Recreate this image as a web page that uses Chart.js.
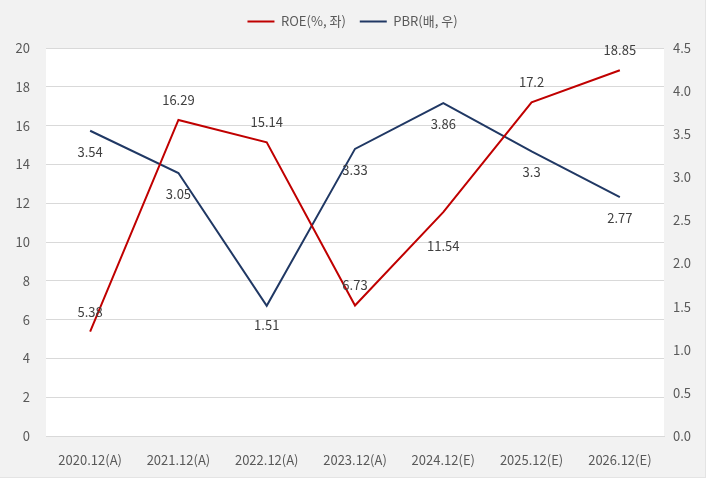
<!DOCTYPE html>
<html>
<head>
<meta charset="utf-8">
<script src="https://cdn.jsdelivr.net/npm/chart.js@4/dist/chart.umd.min.js"></script>
<style>
  html, body { margin: 0; padding: 0; background: #ffffff; }
  #wrap { position: absolute; left: 0; top: 0; width: 705px; height: 477px; background: #f2f2f2; border-right: 1px solid #e4e4e4; border-bottom: 1px solid #e4e4e4; }
</style>
</head>
<body>
<div id="wrap"><canvas id="chart" width="705" height="477"></canvas></div>
<script>
// Data
const categories = ['2020.12(A)', '2021.12(A)', '2022.12(A)', '2023.12(A)', '2024.12(E)', '2025.12(E)', '2026.12(E)'];
const roeValues = [5.38, 16.29, 15.14, 6.73, 11.54, 17.2, 18.85];
const pbrValues = [3.54, 3.05, 1.51, 3.33, 3.86, 3.3, 2.77];

const FONT = '"Noto Sans CJK KR", "Noto Sans", sans-serif';
const TEXT = '#595959';

// label vertical offsets (px from point)
const roeLabelOffset = [-20, -20, -20, -20, 34, -20, -20];
const pbrLabelOffset = [21, 21, 19, 21, 21, 21, 21];

// white plot area
const plotBackground = {
    id: 'plotBackground',
    beforeDraw(chart) {
        const {ctx, chartArea: a} = chart;
        ctx.save();
        ctx.fillStyle = '#ffffff';
        ctx.fillRect(a.left, a.top, a.right - a.left, a.bottom - a.top);
        ctx.restore();
    }
};

// extra space under the legend
const legendGap = {
    id: 'legendGap',
    beforeLayout(chart) {
        const lg = chart.legend;
        if (lg && !lg._gapPatched) {
            const fit = lg.fit;
            lg.fit = function() { fit.call(this); this.height += 10; };
            lg._gapPatched = true;
        }
    }
};

// value labels
const valueLabels = {
    id: 'valueLabels',
    afterDatasetsDraw(chart) {
        const ctx = chart.ctx;
        ctx.save();
        ctx.font = '13px ' + FONT;
        ctx.fillStyle = '#404040';
        ctx.textAlign = 'center';
        ctx.textBaseline = 'middle';
        chart.data.datasets.forEach((ds, i) => {
            const meta = chart.getDatasetMeta(i);
            const offs = i === 0 ? roeLabelOffset : pbrLabelOffset;
            meta.data.forEach((pt, j) => {
                ctx.fillText(String(ds.data[j]), pt.x, pt.y + offs[j]);
            });
        });
        ctx.restore();
    }
};

new Chart(document.getElementById('chart'), {
    type: 'line',
    data: {
        labels: categories,
        datasets: [{
            label: 'ROE(%, 좌)',
            data: roeValues,
            borderColor: '#c00000',
            backgroundColor: '#c00000',
            borderWidth: 2,
            pointRadius: 0,
            tension: 0,
            yAxisID: 'y'
        }, {
            label: 'PBR(배, 우)',
            data: pbrValues,
            borderColor: '#203864',
            backgroundColor: '#203864',
            borderWidth: 2,
            pointRadius: 0,
            tension: 0,
            yAxisID: 'y1'
        }]
    },
    options: {
        responsive: false,
        animation: false,
        layout: { padding: { top: 1, left: 0, right: 0, bottom: 0 } },
        plugins: {
            legend: {
                position: 'top',
                labels: {
                    usePointStyle: true,
                    pointStyle: 'line',
                    pointStyleWidth: 27,
                    boxHeight: 10,
                    color: TEXT,
                    font: { family: FONT, size: 13 },
                    padding: 14
                }
            },
            tooltip: { enabled: false }
        },
        scales: {
            x: {
                offset: true,
                grid: { display: false },
                border: { display: true, color: '#d9d9d9' },
                ticks: { color: TEXT, font: { family: FONT, size: 13 }, padding: 8, maxRotation: 0 },
                afterFit(s) { s.height = 41; }
            },
            y: {
                position: 'left',
                min: 0,
                max: 20,
                ticks: { stepSize: 2, color: TEXT, font: { family: FONT, size: 13 }, padding: 16 },
                grid: { color: '#d9d9d9', drawTicks: false },
                border: { display: false },
                afterFit(s) { s.width = 46; }
            },
            y1: {
                position: 'right',
                min: 0,
                max: 4.5,
                ticks: {
                    stepSize: 0.5,
                    color: TEXT,
                    font: { family: FONT, size: 13 },
                    padding: 9,
                    callback: v => v.toFixed(1)
                },
                grid: { drawOnChartArea: false, drawTicks: false },
                border: { display: false },
                afterFit(s) { s.width = 41; }
            }
        }
    },
    plugins: [plotBackground, legendGap, valueLabels]
});
</script>
</body>
</html>
